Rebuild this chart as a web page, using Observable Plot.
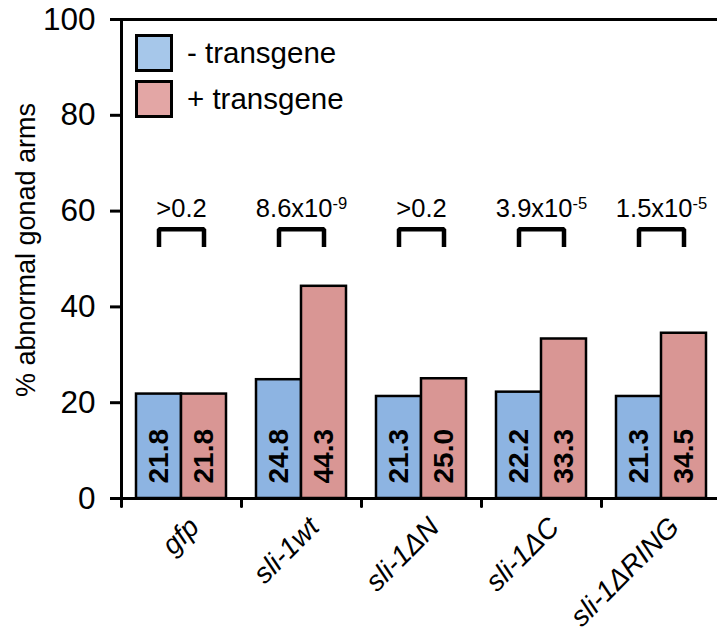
<!DOCTYPE html>
<html>
<head>
<meta charset="utf-8">
<script src="https://cdn.jsdelivr.net/npm/d3@7"></script>
<script src="https://cdn.jsdelivr.net/npm/@observablehq/plot@0.6"></script>
<style>
  html, body { margin: 0; padding: 0; background: #fff; }
  #wrap { position: relative; width: 717px; height: 638px; font-family: "Liberation Sans", Arial, sans-serif; }
  #legend { position: absolute; left: 135px; top: 34px; }
  .item { display: flex; align-items: center; height: 38px; margin-bottom: 8px; }
  .sw { width: 32px; height: 32px; border: 3px solid #000; box-sizing: content-box; }
  .lab { font-size: 29.5px; margin-left: 14px; color: #000; }
</style>
</head>
<body>
<div id="wrap"></div>
<script>
const categories = ["gfp", "sli-1wt", "sli-1ΔN", "sli-1ΔC", "sli-1ΔRING"];
const seriesNames = ["- transgene", "+ transgene"];
const seriesKeys = ["-", "+"];
const minusValues = [21.8, 24.8, 21.3, 22.2, 21.3];
const plusValues = [21.8, 44.3, 25.0, 33.3, 34.5];
const pValues = [">0.2", "8.6x10^-9", ">0.2", "3.9x10^-5", "1.5x10^-5"];
const yTicks = [0, 20, 40, 60, 80, 100];
const barColors = ["#8DB4E2", "#D99694"];
const legendColors = ["#A6C7EA", "#E3A6A5"];
const bracketTop = 56.2;
const bracketLeg = 53.0;
const pLabelY = 58.8;

const rows = categories.flatMap((c, i) => [
  {cat: c, s: "-", value: minusValues[i]},
  {cat: c, s: "+", value: plusValues[i]}
]);
const brackets = categories.flatMap(c => [
  {cat: c, s: "-", y: bracketLeg},
  {cat: c, s: "-", y: bracketTop},
  {cat: c, s: "+", y: bracketTop},
  {cat: c, s: "+", y: bracketLeg}
]);
const pRows = categories.map((c, i) => ({cat: c, p: pValues[i]}));

const tickShape = {draw(context, l) { context.moveTo(0, 0); context.lineTo(0, -l); }};

const chart = Plot.plot({
  width: 717,
  height: 638,
  marginLeft: 120,
  marginRight: -5,
  marginTop: 19,
  marginBottom: 140,
  style: {fontFamily: '"Liberation Sans", Arial, sans-serif', color: "#000", background: "transparent"},
  fx: {domain: categories, padding: 0, axis: null, label: null},
  x: {domain: seriesKeys, paddingInner: 0, paddingOuter: 0.32, axis: null},
  y: {domain: [0, 100], axis: null},
  color: {domain: seriesKeys, range: barColors},
  marks: [
    Plot.ruleY([100], {stroke: "#000", strokeWidth: 3}),
    Plot.barY(rows, {fx: "cat", x: "s", y: "value", fill: "s", stroke: "#000", strokeWidth: 2.5}),
    Plot.ruleY([0], {stroke: "#000", strokeWidth: 3}),
    Plot.frame({anchor: "left", facetAnchor: "left", stroke: "#000", strokeWidth: 3}),
    Plot.vector([0], {frameAnchor: "bottom-left", length: 8, rotate: 180, anchor: "start", shape: tickShape, stroke: "#000", strokeWidth: 3}),
    Plot.axisY({ticks: yTicks, tickSize: 11, tickPadding: 15, fontSize: 31.5, label: null, strokeWidth: 3}),
    Plot.text(["% abnormal gonad arms"], {frameAnchor: "left", facetAnchor: "left", rotate: -90, textAnchor: "middle", dx: -95, dy: -9, fontSize: 27, fill: "#000"}),
    Plot.text(rows, {fx: "cat", x: "s", y: 0, text: d => d.value.toFixed(1), rotate: -90, textAnchor: "start", dy: -15, fontSize: 28, fontWeight: "bold", fill: "#000"}),
    Plot.line(brackets, {fx: "cat", x: "s", y: "y", z: "cat", stroke: "#000", strokeWidth: 4.5, strokeLinejoin: "miter", strokeLinecap: "square"}),
    Plot.text(pRows, {fx: "cat", y: pLabelY, text: "p", lineAnchor: "bottom", fontSize: 25.5, fill: "#000"}),
    Plot.axisFx({anchor: "bottom", domain: categories, tickRotate: -45, tickSize: 0, tickPadding: 24, dx: 13, fontSize: 28, fontStyle: "italic", label: null})
  ]
});

// superscripts for exponents
chart.querySelectorAll("text").forEach(t => {
  const s = t.textContent;
  if (s.includes("^") && t.children.length === 0) {
    const [base, exp] = s.split("^");
    t.textContent = base;
    const ts = document.createElementNS("http://www.w3.org/2000/svg", "tspan");
    ts.setAttribute("dy", "-0.5em");
    ts.setAttribute("font-size", "65%");
    ts.textContent = exp;
    t.appendChild(ts);
  }
});

const wrap = document.getElementById("wrap");
wrap.appendChild(chart);
const legend = document.createElement("div");
legend.id = "legend";
seriesNames.forEach((n, i) => {
  const item = document.createElement("div");
  item.className = "item";
  const sw = document.createElement("div");
  sw.className = "sw";
  sw.style.background = legendColors[i];
  const lab = document.createElement("span");
  lab.className = "lab";
  lab.textContent = n;
  item.appendChild(sw);
  item.appendChild(lab);
  legend.appendChild(item);
});
wrap.appendChild(legend);
</script>
</body>
</html>
